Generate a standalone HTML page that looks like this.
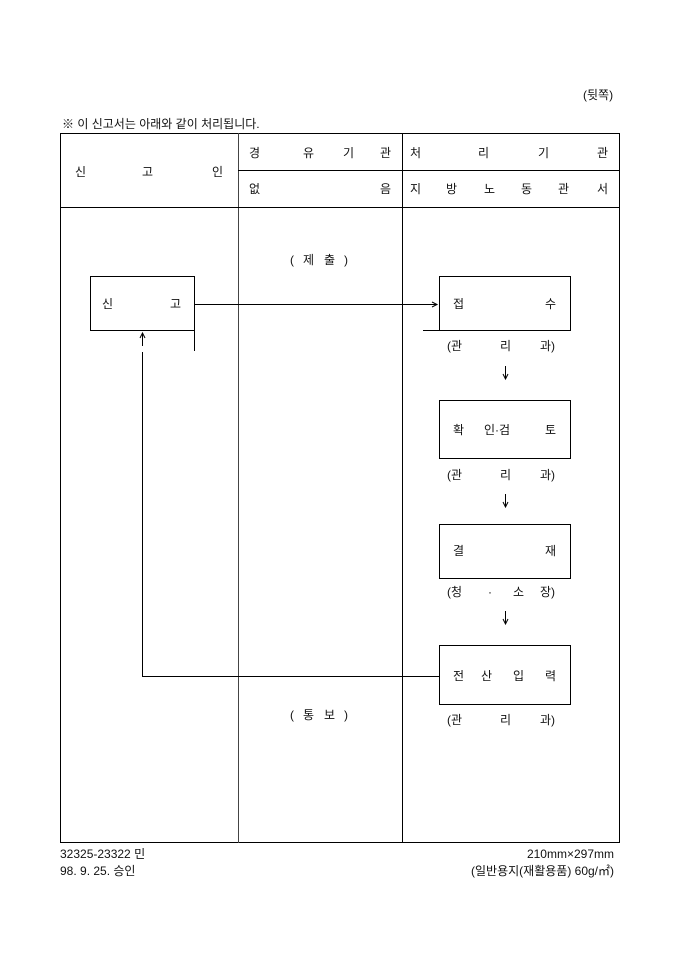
<!DOCTYPE html>
<html><head><meta charset="utf-8"><style>
html,body{margin:0;padding:0;background:#fff;}
svg text{font-family:"Liberation Sans","Noto Sans CJK KR","NanumGothic",sans-serif;font-size:12px;fill:#111;}
</style></head><body>
<svg width="680" height="962" viewBox="0 0 680 962" xmlns="http://www.w3.org/2000/svg">
<g stroke="#000" stroke-width="1" fill="none" shape-rendering="crispEdges">
<rect x="60.5" y="133.5" width="559" height="709"/>
<line x1="238.5" y1="133" x2="238.5" y2="843" stroke="#444"/>
<line x1="402.5" y1="133" x2="402.5" y2="843"/>
<line x1="238" y1="170.5" x2="620" y2="170.5"/>
<line x1="60" y1="207.5" x2="620" y2="207.5"/>
<rect x="90.5" y="276.5" width="104" height="54"/>
<line x1="194.5" y1="331" x2="194.5" y2="351"/>
<line x1="195" y1="304.5" x2="436" y2="304.5"/>
<rect x="439.5" y="276.5" width="131" height="54"/>
<line x1="423" y1="330.5" x2="440" y2="330.5"/>
<rect x="439.5" y="400.5" width="131" height="58"/>
<rect x="439.5" y="524.5" width="131" height="54"/>
<rect x="439.5" y="645.5" width="131" height="59"/>
<line x1="142.5" y1="676.5" x2="439" y2="676.5"/>
<line x1="142.5" y1="352" x2="142.5" y2="677"/>
<line x1="142.5" y1="334" x2="142.5" y2="346"/>
<line x1="505.5" y1="366" x2="505.5" y2="378"/>
<line x1="505.5" y1="494" x2="505.5" y2="506"/>
<line x1="505.5" y1="611" x2="505.5" y2="623"/>
</g>
<g fill="none" stroke="#000" stroke-width="1">
<polyline points="432,302 437,304.5 432,307"/>
<polyline points="140,338 142.5,333 145,338"/>
<polyline points="503,374 505.5,379 508,374"/>
<polyline points="503,502 505.5,507 508,502"/>
<polyline points="503,619 505.5,624 508,619"/>
</g>
<text x="583" y="99">(뒷쪽)</text>
<text x="62" y="128">※ 이 신고서는 아래와 같이 처리됩니다.</text>
<text x="75" y="176">신</text><text x="142" y="176">고</text><text x="212" y="176">인</text>
<text x="249" y="157">경</text><text x="303" y="157">유</text><text x="343" y="157">기</text><text x="380" y="157">관</text>
<text x="249" y="193">없</text><text x="380" y="193">음</text>
<text x="410" y="157">처</text><text x="478" y="157">리</text><text x="538" y="157">기</text><text x="597" y="157">관</text>
<text x="410" y="193">지</text><text x="446" y="193">방</text><text x="484" y="193">노</text><text x="521" y="193">동</text><text x="558" y="193">관</text><text x="597" y="193">서</text>
<text x="290" y="264">(</text><text x="303" y="264">제</text><text x="324" y="264">출</text><text x="344" y="264">)</text>
<text x="102" y="308">신</text><text x="170" y="308">고</text>
<text x="453" y="308">접</text><text x="545" y="308">수</text>
<text x="447" y="350">(관</text><text x="500" y="350">리</text><text x="540" y="350">과)</text>
<text x="453" y="434">확</text><text x="484" y="434">인·검</text><text x="545" y="434">토</text>
<text x="447" y="479">(관</text><text x="500" y="479">리</text><text x="540" y="479">과)</text>
<text x="453" y="555">결</text><text x="545" y="555">재</text>
<text x="447" y="596">(청</text><text x="488" y="596">·</text><text x="513" y="596">소</text><text x="540" y="596">장)</text>
<text x="453" y="680">전</text><text x="481" y="680">산</text><text x="513" y="680">입</text><text x="545" y="680">력</text>
<text x="447" y="724">(관</text><text x="500" y="724">리</text><text x="540" y="724">과)</text>
<text x="290" y="719">(</text><text x="303" y="719">통</text><text x="324" y="719">보</text><text x="344" y="719">)</text>
<text x="60" y="858">32325-23322 민</text>
<text x="60" y="875">98. 9. 25. 승인</text>
<text x="614" y="858" text-anchor="end">210mm×297mm</text>
<text x="614" y="875" text-anchor="end">(일반용지(재활용품) 60g/㎡)</text>
</svg>
</body></html>
